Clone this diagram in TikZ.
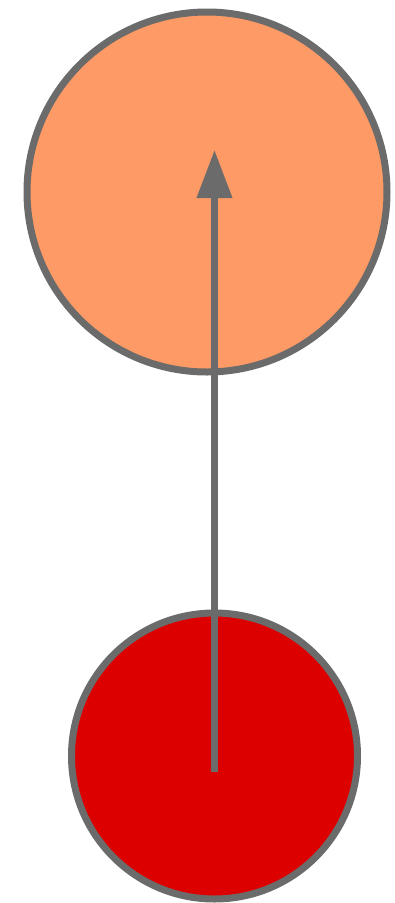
\documentclass[tikz,border=0pt]{standalone}
\usetikzlibrary{arrows.meta}
\definecolor{EdgeGray}{HTML}{6B6B6B}
\definecolor{Peach}{HTML}{FE9A66}
\definecolor{Scarlet}{HTML}{DD0000}
\tikzset{
  ball/.style={
    circle,
    draw=EdgeGray,
    line width=7pt,
    fill=#1,
    inner sep=0pt
  },
  linkarrow/.style={
    -{Triangle[length=48pt,width=34pt]},
    line width=7pt,
    draw=EdgeGray
  }
}

\begin{document}
\begin{tikzpicture}[x=1pt,y=-1pt]

% Page frame.
\useasboundingbox (0,0) rectangle (394,903);

% The two circles.
\node[ball=Peach, minimum size=360pt] (upper) at (207,192) {};
\node[ball=Scarlet, minimum size=286pt] (lower) at (214.5,756) {};

% Arrow from lower to upper.
\coordinate (tail) at ([yshift=-16pt]lower.center);
\coordinate (head) at (214.5,150);
\draw[linkarrow] (tail) -- (head);

\end{tikzpicture}
\end{document}
